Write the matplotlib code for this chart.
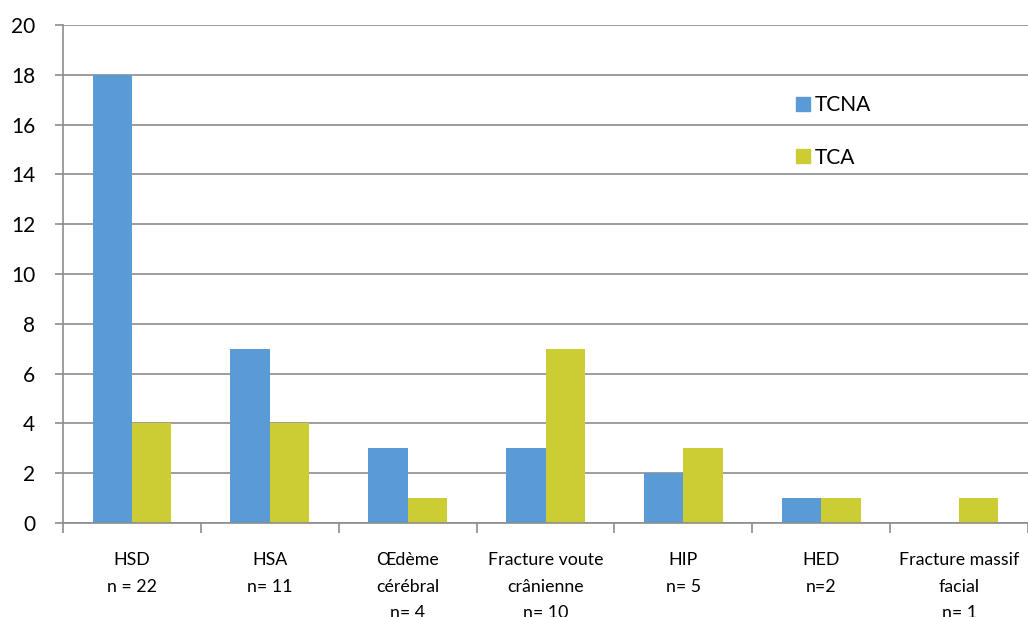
import numpy as np
import matplotlib.pyplot as plt
from matplotlib.patches import Patch

# Data
categories = ['HSD\nn = 22', 'HSA\nn= 11', 'Œdème\ncérébral\nn= 4',
              'Fracture voute\ncrânienne\nn= 10', 'HIP\nn= 5', 'HED\nn=2',
              'Fracture massif\nfacial\nn= 1']
tcna = [18, 7, 3, 3, 2, 1, 0]
tca = [4, 4, 1, 7, 3, 1, 1]
series_names = ['TCNA', 'TCA']

blue = '#5B9BD5'
yellow = '#CCCC33'
grid_gray = '#8C8C8C'

plt.rcParams['font.family'] = ['Lato', 'DejaVu Sans']

fig = plt.figure(figsize=(10.28, 6.17), dpi=100)
ax = fig.add_axes([63 / 1028, 1 - 523 / 617, 1 - 63 / 1028, (523 - 25) / 617])

x = np.arange(len(categories))
w = 0.286
ax.bar(x - w / 2, tcna, width=w, color=blue, zorder=2)
ax.bar(x + w / 2, tca, width=w, color=yellow, zorder=2)

ax.set_xlim(-0.5, len(categories) - 0.5)
ax.set_ylim(0, 20)
ax.set_yticks(np.arange(0, 21, 2))
ax.yaxis.grid(True, color=grid_gray, linewidth=1.2)
ax.set_axisbelow(True)

# category boundaries as major ticks, labels on minor ticks
ax.set_xticks(np.arange(-0.5, len(categories), 1))
ax.set_xticklabels([])
ax.set_xticks(x, minor=True)
ax.set_xticklabels(categories, minor=True, fontsize=12.8, linespacing=1.8,
                   va='top')
ax.tick_params(axis='x', which='major', length=7, color=grid_gray, width=1.2)
ax.tick_params(axis='x', which='minor', length=0, pad=21)
ax.tick_params(axis='y', length=6, color=grid_gray, width=1.2, labelsize=15, pad=14)

for s in ['top', 'right']:
    ax.spines[s].set_visible(False)
for s in ['left', 'bottom']:
    ax.spines[s].set_color(grid_gray)
    ax.spines[s].set_linewidth(1.2)

handles = [Patch(color=blue), Patch(color=yellow)]
leg = ax.legend(handles, series_names, loc='upper left',
                bbox_to_anchor=(0.747, 0.884), frameon=False, fontsize=15,
                handlelength=0.65, handleheight=0.65, handletextpad=0.25,
                labelspacing=1.55, borderpad=0.1)

plt.savefig('out.png', dpi=100)
